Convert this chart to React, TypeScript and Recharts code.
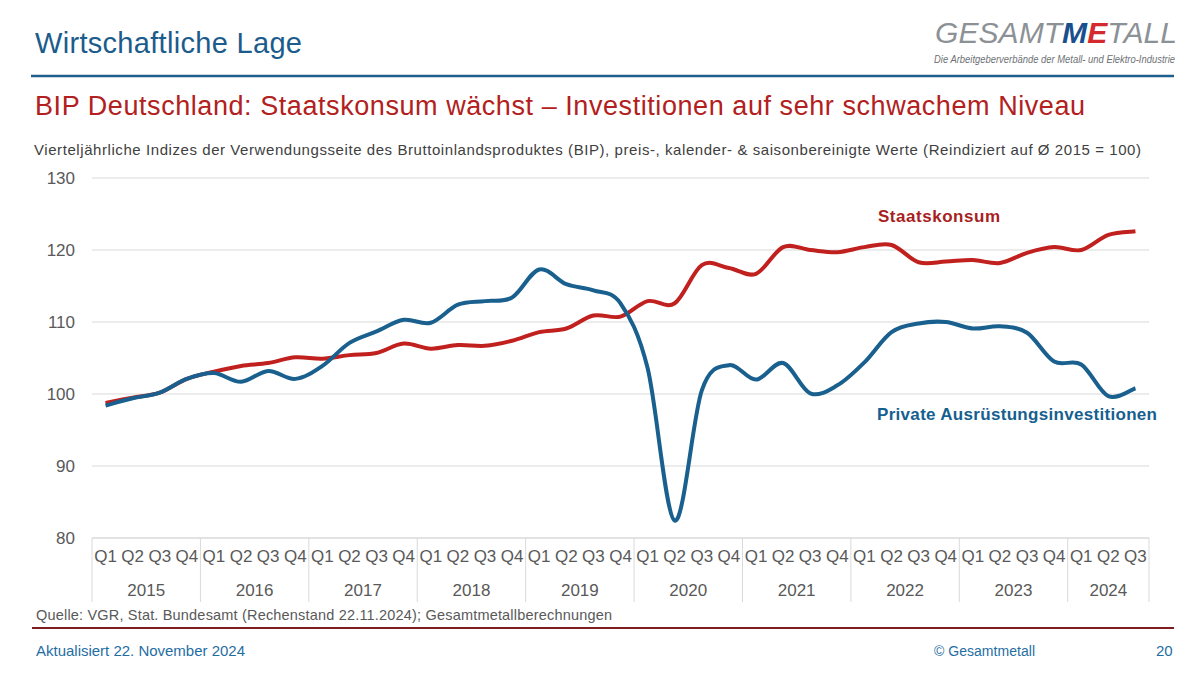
import React from "react";
import { LineChart, Line, XAxis, YAxis, CartesianGrid } from "recharts";

const YEARS = ["2015", "2016", "2017", "2018", "2019", "2020", "2021", "2022", "2023", "2024"];
const QUARTERS = ["Q1", "Q2", "Q3", "Q4"];

// Staatskonsum, Index (2015 = 100), 2015 Q1 .. 2024 Q3
const STAATSKONSUM = [
  98.75, 99.5, 100.2, 102.1,
  103.1, 103.9, 104.3, 105.1,
  104.9, 105.4, 105.7, 107.0,
  106.3, 106.8, 106.7, 107.4,
  108.6, 109.1, 110.9, 110.75,
  112.9, 112.6, 117.9, 117.5,
  116.7, 120.4, 120.0, 119.7,
  120.4, 120.7, 118.3, 118.4,
  118.6, 118.2, 119.6, 120.4,
  120.0, 122.1, 122.6,
];

// Private Ausrüstungsinvestitionen
const AUSRUESTUNG = [
  98.4, 99.4, 100.2, 102.1,
  102.9, 101.7, 103.2, 102.1,
  103.9, 107.1, 108.7, 110.3,
  109.9, 112.4, 112.9, 113.4,
  117.3, 115.25, 114.4, 112.6,
  103.6, 82.4, 100.5, 104.0,
  102.0, 104.3, 100.1, 101.2,
  104.4, 108.6, 109.8, 110.0,
  109.1, 109.4, 108.5, 104.5,
  104.1, 99.7, 100.8,
];

const Y_TICKS = [80, 90, 100, 110, 120, 130];

const data = STAATSKONSUM.map((v, i) => ({
  q: QUARTERS[i % 4],
  year: YEARS[Math.floor(i / 4)],
  staat: v,
  invest: AUSRUESTUNG[i],
}));

const W = 1200;
const H = 676;
const PLOT_L = 92;
const PLOT_R = 1149;
const PLOT_T = 178;
const PLOT_B = 538;
const XAXIS_H = 70;
const STEP = (PLOT_R - PLOT_L) / data.length;

const GREY = "#595959";
const BLUE = "#19608f";
const RED = "#c0201e";
const FONT = "'Liberation Sans', Arial, sans-serif";

// excel-like smoothed line (catmull-rom through the points)
function smoothCurve(context: any) {
  let pts: number[][] = [];
  return {
    areaStart() {},
    areaEnd() {},
    lineStart() {
      pts = [];
    },
    point(x: number, y: number) {
      pts.push([+x, +y]);
    },
    lineEnd() {
      if (!pts.length) return;
      context.moveTo(pts[0][0], pts[0][1]);
      for (let i = 0; i < pts.length - 1; i++) {
        const p0 = pts[i - 1] || pts[i];
        const p1 = pts[i];
        const p2 = pts[i + 1];
        const p3 = pts[i + 2] || p2;
        context.bezierCurveTo(
          p1[0] + (p2[0] - p0[0]) / 6,
          p1[1] + (p2[1] - p0[1]) / 6,
          p2[0] - (p3[0] - p1[0]) / 6,
          p2[1] - (p3[1] - p1[1]) / 6,
          p2[0],
          p2[1]
        );
      }
    },
  };
}

function QuarterTick({ x, payload }: any) {
  const i = payload.index;
  const row = data[i];
  const out: any[] = [
    <text key="q" x={x} y={PLOT_B + 24} textAnchor="middle" fill={GREY} fontSize={17} fontFamily={FONT}>
      {row.q}
    </text>,
  ];
  if (row.q === "Q1") {
    const left = x - STEP / 2;
    const n = data.filter((d) => d.year === row.year).length;
    out.push(<line key="s" x1={left} x2={left} y1={PLOT_B} y2={PLOT_B + 64} stroke="#d9d9d9" />);
    out.push(
      <text key="y" x={left + (n * STEP) / 2} y={PLOT_B + 58} textAnchor="middle" fill={GREY} fontSize={17} fontFamily={FONT}>
        {row.year}
      </text>
    );
  }
  if (i === data.length - 1) {
    const right = x + STEP / 2;
    out.push(<line key="e" x1={right} x2={right} y1={PLOT_B} y2={PLOT_B + 64} stroke="#d9d9d9" />);
  }
  return <g>{out}</g>;
}

function Decor() {
  return (
    <svg width={W} height={H} style={{ position: "absolute", left: 0, top: 0 }}>
      {/* header */}
      <text x={35} y={53} fontSize={29} fill="#1b5c8c" fontFamily={FONT} textLength={267} lengthAdjust="spacing">
        Wirtschaftliche Lage
      </text>
      <line x1={31} x2={1174} y1={76} y2={76} stroke="#1d5f8d" strokeWidth={2.5} />
      <text x={935} y={43} fontSize={30} fontStyle="italic" fontFamily={FONT} textLength={242} lengthAdjust="spacingAndGlyphs">
        <tspan fill="#8c9196">GESAMT</tspan>
        <tspan fill="#1a4f8e" fontWeight="bold">M</tspan>
        <tspan fill="#d42a2f" fontWeight="bold">E</tspan>
        <tspan fill="#8c9196">TALL</tspan>
      </text>
      <text x={934} y={63} fontSize={10} fontStyle="italic" fill="#6d7175" fontFamily={FONT} textLength={241} lengthAdjust="spacingAndGlyphs">
        Die Arbeitgeberverbände der Metall- und Elektro-Industrie
      </text>

      {/* titles */}
      <text x={35} y={115} fontSize={27} fill="#b22020" fontFamily={FONT} textLength={1050} lengthAdjust="spacing">
        BIP Deutschland: Staatskonsum wächst – Investitionen auf sehr schwachem Niveau
      </text>
      <text x={34} y={155} fontSize={15} fill="#404040" fontFamily={FONT} textLength={1107} lengthAdjust="spacing">
        Vierteljährliche Indizes der Verwendungsseite des Bruttoinlandsproduktes (BIP), preis-, kalender- &amp; saisonbereinigte Werte (Reindiziert auf Ø 2015 = 100)
      </text>

      {/* series labels */}
      <text x={878} y={222} fontSize={17} fontWeight="bold" fill="#a81f1f" fontFamily={FONT} textLength={122} lengthAdjust="spacing">
        Staatskonsum
      </text>
      <text x={877} y={420} fontSize={17} fontWeight="bold" fill="#15608f" fontFamily={FONT} textLength={280} lengthAdjust="spacing">
        Private Ausrüstungsinvestitionen
      </text>

      {/* footer */}
      <text x={36} y={620} fontSize={14.5} fill={GREY} fontFamily={FONT} textLength={576} lengthAdjust="spacing">
        Quelle: VGR, Stat. Bundesamt (Rechenstand 22.11.2024); Gesamtmetallberechnungen
      </text>
      <line x1={32} x2={1174} y1={628} y2={628} stroke="#7d1c1c" strokeWidth={2} />
      <text x={36} y={656} fontSize={15} fill="#1f6ea3" fontFamily={FONT} textLength={209} lengthAdjust="spacing">
        Aktualisiert 22. November 2024
      </text>
      <text x={934} y={656} fontSize={14} fill="#1f6ea3" fontFamily={FONT} textLength={101} lengthAdjust="spacing">
        © Gesamtmetall
      </text>
      <text x={1156} y={656} fontSize={15} fill="#1f6ea3" fontFamily={FONT}>
        20
      </text>
    </svg>
  );
}

export default function App() {
  return (
    <div style={{ position: "absolute", left: 0, top: 0, width: W, height: H, background: "#fff", overflow: "hidden" }}>
      <Decor />
      <div style={{ position: "absolute", left: 0, top: 0 }}>
        <LineChart
          width={W}
          height={H}
          data={data}
          margin={{ top: PLOT_T, right: W - PLOT_R, bottom: H - PLOT_B - XAXIS_H, left: 0 }}
        >
          <CartesianGrid vertical={false} stroke="#d9d9d9" />
          <XAxis
            dataKey="q"
            interval={0}
            height={XAXIS_H}
            padding={{ left: STEP / 2, right: STEP / 2 }}
            axisLine={{ stroke: "#d9d9d9" }}
            tickLine={false}
            tick={<QuarterTick />}
          />
          <YAxis
            width={PLOT_L}
            domain={[80, 130]}
            ticks={Y_TICKS}
            axisLine={false}
            tickLine={false}
            tickMargin={11}
            tick={{ fill: GREY, fontSize: 17, fontFamily: FONT }}
          />
          <Line dataKey="staat" type={smoothCurve as any} stroke={RED} strokeWidth={4} dot={false} isAnimationActive={false} />
          <Line dataKey="invest" type={smoothCurve as any} stroke={BLUE} strokeWidth={4} dot={false} isAnimationActive={false} />
        </LineChart>
      </div>
    </div>
  );
}
